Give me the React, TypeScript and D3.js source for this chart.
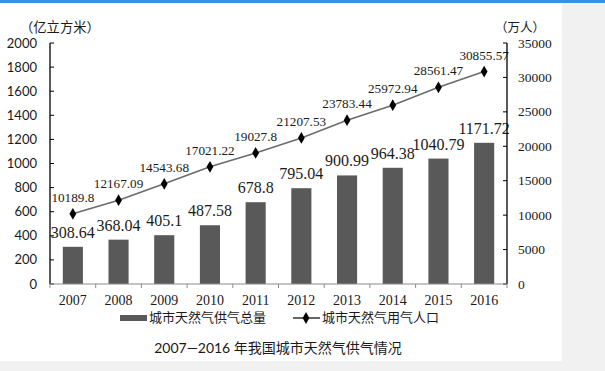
import React from "react";
import * as d3 from "d3";

const years = ["2007", "2008", "2009", "2010", "2011", "2012", "2013", "2014", "2015", "2016"];
const supplyTotal = [308.64, 368.04, 405.1, 487.58, 678.8, 795.04, 900.99, 964.38, 1040.79, 1171.72];
const gasPopulation = [10189.8, 12167.09, 14543.68, 17021.22, 19027.8, 21207.53, 23783.44, 25972.94, 28561.47, 30855.57];
const leftTicks = [0, 200, 400, 600, 800, 1000, 1200, 1400, 1600, 1800, 2000];
const rightTicks = [0, 5000, 10000, 15000, 20000, 25000, 30000, 35000];
const barLegend = "城市天然气供气总量";
const lineLegend = "城市天然气用气人口";
const leftUnit = "（亿立方米）";
const rightUnit = "（万人）";
const title = "2007—2016 年我国城市天然气供气情况";

const serif = "'Liberation Serif', 'Times New Roman', serif";
const sans = "Lato, 'Liberation Sans', sans-serif";
const cjk = "'Noto Sans CJK SC', sans-serif";

export default function App() {
  const left = 50, right = 507, top = 43, bottom = 284;
  const x = d3.scaleBand<string>().domain(years).range([left, right]).paddingInner(0.56).paddingOuter(0.28);
  const xc = d3.scaleBand<string>().domain(years).range([left, right]);
  const yL = d3.scaleLinear().domain([0, 2000]).range([bottom, top]);
  const yR = d3.scaleLinear().domain([0, 35000]).range([bottom, top]);
  const line = d3.line<number>()
    .x((_, i) => (xc(years[i]) as number) + xc.bandwidth() / 2)
    .y((d) => yR(d));
  const diamond = d3.symbol().type(d3.symbolDiamond).size(40)();

  return (
    <div style={{ position: "absolute", left: 0, top: 0 }}>
      <svg width={605} height={371} style={{ display: "block" }}>
        <rect x={0} y={0} width={605} height={371} fill="#f1f1f1" />
        <rect x={0} y={3} width={562} height={358} fill="#ffffff" />
        <rect x={0} y={0} width={605} height={3} fill="#3f8fe0" />

        {/* bars */}
        {years.map((yr, i) => (
          <rect key={yr} x={x(yr)} y={yL(supplyTotal[i])} width={x.bandwidth()}
            height={bottom - yL(supplyTotal[i])} fill="#595959" />
        ))}
        {years.map((yr, i) => (
          <text key={"bl" + yr} x={(xc(yr) as number) + xc.bandwidth() / 2} y={yL(supplyTotal[i]) - 9}
            textAnchor="middle" fontFamily={serif} fontSize={16} fill="#1a1a1a">{supplyTotal[i]}</text>
        ))}

        {/* line */}
        <path d={line(gasPopulation) || ""} fill="none" stroke="#6b6b6b" strokeWidth={1.6} />
        {years.map((yr, i) => (
          <path key={"m" + yr} d={diamond || ""} fill="#000"
            transform={`translate(${(xc(yr) as number) + xc.bandwidth() / 2},${yR(gasPopulation[i])})`} />
        ))}
        {years.map((yr, i) => (
          <text key={"ll" + yr} x={(xc(yr) as number) + xc.bandwidth() / 2} y={yR(gasPopulation[i]) - 12}
            textAnchor="middle" fontFamily={serif} fontSize={13.2} fill="#1a1a1a">{gasPopulation[i]}</text>
        ))}

        {/* left axis */}
        <line x1={left} x2={left} y1={top} y2={bottom} stroke="#000" strokeWidth={1.3} />
        {leftTicks.map((t) => (
          <g key={"lt" + t}>
            <line x1={left} x2={left + 4} y1={yL(t)} y2={yL(t)} stroke="#000" />
            <text x={37} y={yL(t) + 4.5} textAnchor="end" fontFamily={sans} fontSize={13} fill="#1a1a1a">{t}</text>
          </g>
        ))}

        {/* right axis */}
        <line x1={right} x2={right} y1={top} y2={bottom} stroke="#000" strokeWidth={1.3} />
        {rightTicks.map((t) => (
          <g key={"rt" + t}>
            <line x1={right - 4} x2={right} y1={yR(t)} y2={yR(t)} stroke="#000" />
            <text x={518} y={yR(t) + 4.5} textAnchor="start" fontFamily={serif} fontSize={13.5} fill="#1a1a1a">{t}</text>
          </g>
        ))}

        {/* bottom axis */}
        <line x1={left} x2={right} y1={bottom} y2={bottom} stroke="#8c8c8c" strokeWidth={1.2} />
        {years.concat(["end"]).map((yr, i) => {
          const px = left + i * xc.bandwidth();
          return <line key={"bt" + i} x1={px} x2={px} y1={bottom} y2={bottom + 4} stroke="#8c8c8c" />;
        })}
        {years.map((yr) => (
          <text key={"yl" + yr} x={(xc(yr) as number) + xc.bandwidth() / 2} y={305}
            textAnchor="middle" fontFamily={serif} fontSize={14} fill="#1a1a1a">{yr}</text>
        ))}

        {/* units */}
        <text x={20} y={32} fontFamily={cjk} fontSize={13.3} fill="#1a1a1a">{leftUnit}</text>
        <text x={495} y={32} fontFamily={cjk} fontSize={12.5} fill="#1a1a1a">{rightUnit}</text>

        {/* legend */}
        <rect x={120} y={315} width={27} height={6} fill="#595959" />
        <text x={149} y={322} fontFamily={cjk} fontSize={13} fill="#1a1a1a">{barLegend}</text>
        <line x1={293} x2={320} y1={318} y2={318} stroke="#333" strokeWidth={1.5} />
        <path d={diamond || ""} fill="#000" transform="translate(306,318)" />
        <text x={322} y={322} fontFamily={cjk} fontSize={13} fill="#1a1a1a">{lineLegend}</text>

        {/* title */}
        <text x={278} y={353} textAnchor="middle" fontFamily={`Lato, ${cjk}`} fontSize={14} fill="#1a1a1a">{title}</text>
      </svg>
    </div>
  );
}
